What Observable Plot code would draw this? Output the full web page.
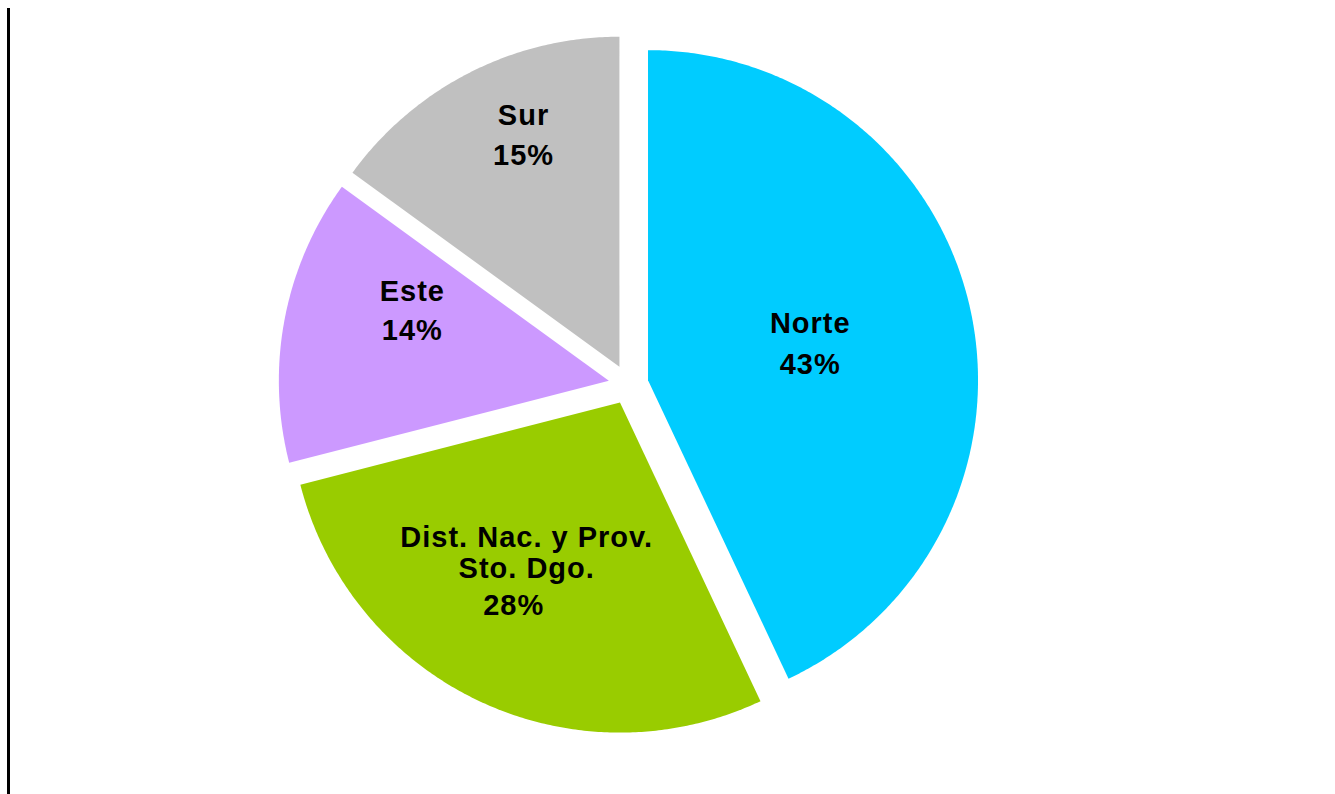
<!DOCTYPE html>
<html>
<head>
<meta charset="utf-8">
<script src="https://cdn.jsdelivr.net/npm/d3@7"></script>
<script src="https://cdn.jsdelivr.net/npm/@observablehq/plot@0.6"></script>
<style>
  html, body { margin: 0; padding: 0; background: #fff; overflow: hidden; }
  #wrap { position: relative; width: 1335px; height: 794px; }
  #axisline { position: absolute; left: 7px; top: 8px; width: 3px; height: 786px; background: #000; }
  #chart { position: absolute; left: 0; top: 0; }
  #chart svg text { letter-spacing: 1px; }
</style>
</head>
<body>
<div id="wrap"><div id="chart"></div><div id="axisline"></div></div>
<script>
// ---- data ----
const regions = ["Norte", "Dist. Nac. y Prov.\nSto. Dgo.", "Este", "Sur"];
const shares = [43, 28, 14, 15];
const pctLabels = ["43%", "28%", "14%", "15%"];
const sliceColors = ["#00CCFF", "#99CC00", "#CC99FF", "#C0C0C0"];

// ---- layout ----
const W = 1335, H = 794;
const center = [628, 384];
const radius = 330;
const explode = 20;
const labelRadius = 0.6;
// nudges from slice centroid: [nameDx, nameDy, pctDx, pctDy]
const labelNudge = [
  [-31, -14, -31, 28],
  [-9, -29, -22, 24],
  [-2, -53, -2, -13],
  [-6, -75, -6, -35]
];

const arcs = d3.pie().sort(null).startAngle(0).endAngle(2 * Math.PI)(shares);

const polyPts = [];
const nameRows = [];
const pctRows = [];
arcs.forEach((a, i) => {
  const mid = (a.startAngle + a.endAngle) / 2;
  const ox = center[0] + Math.sin(mid) * explode;
  const oy = center[1] - Math.cos(mid) * explode;
  polyPts.push({region: regions[i], x: ox, y: oy});
  const n = Math.max(2, Math.ceil((a.endAngle - a.startAngle) / (Math.PI / 360)));
  for (let k = 0; k <= n; k++) {
    const t = a.startAngle + (a.endAngle - a.startAngle) * k / n;
    polyPts.push({region: regions[i], x: ox + Math.sin(t) * radius, y: oy - Math.cos(t) * radius});
  }
  polyPts.push({region: regions[i], x: ox, y: oy});
  const cxl = ox + Math.sin(mid) * radius * labelRadius;
  const cyl = oy - Math.cos(mid) * radius * labelRadius;
  const nd = labelNudge[i];
  nameRows.push({text: regions[i], x: cxl + nd[0], y: cyl + nd[1]});
  pctRows.push({text: pctLabels[i], x: cxl + nd[2], y: cyl + nd[3]});
});

const font = "'Liberation Sans', Arial, Helvetica, sans-serif";

const chart = Plot.plot({
  width: W,
  height: H,
  margin: 0,
  x: {domain: [0, W], range: [0, W], axis: null},
  y: {domain: [0, H], range: [0, H], axis: null},
  color: {domain: regions, range: sliceColors},
  style: {background: "white", fontFamily: font},
  marks: [
    Plot.line(polyPts, {x: "x", y: "y", z: "region", fill: "region", stroke: "none", curve: "linear"}),
    Plot.text(nameRows, {x: "x", y: "y", text: "text", fontSize: 29, fontWeight: "bold", fill: "black", lineAnchor: "middle", lineHeight: 1.07, fontFamily: font}),
    Plot.text(pctRows, {x: "x", y: "y", text: "text", fontSize: 29, fontWeight: "bold", fill: "black", lineAnchor: "middle", fontFamily: font})
  ]
});
document.getElementById("chart").appendChild(chart);
</script>
</body>
</html>
